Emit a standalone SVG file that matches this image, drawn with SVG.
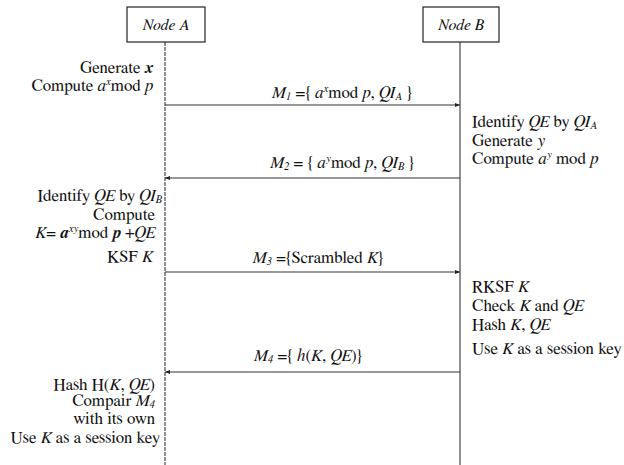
<svg xmlns="http://www.w3.org/2000/svg" width="624" height="465" viewBox="0 0 624 465">
<style>
text{font-family:FreeSerif,"Liberation Serif","Noto Serif","DejaVu Serif",serif;font-size:17px;fill:#111}
.n{font-size:16px}
.i{font-style:italic}
.b{font-weight:bold;font-style:italic}
.sub{font-size:11px;baseline-shift:-2px}
.sup{font-size:11px;baseline-shift:6px}
.r{text-anchor:end}
.m{text-anchor:middle}
.box{fill:#fff;stroke:#222;stroke-width:1.2}
.life{stroke:#222;stroke-width:1}
.msg{stroke:#333;stroke-width:1.2;fill:none}
</style>
<defs>
<marker id="ah" viewBox="0 0 10 10" refX="10" refY="5" markerWidth="7" markerHeight="5" orient="auto" markerUnits="userSpaceOnUse">
<path d="M0,1 L10,5 L0,9 z" fill="#222"/>
</marker>
</defs>
<g id="lifelines">
<line class="life" x1="165" y1="42" x2="165" y2="465" stroke-dasharray="4 1"/>
<line class="life" x1="460" y1="42" x2="460" y2="465"/>
</g>
<g id="nodeA">
<rect class="box" x="127" y="7" width="78" height="35"/>
<text class="i m n" x="166" y="30">Node A</text>
</g>
<g id="nodeB">
<rect class="box" x="423" y="7" width="76" height="35"/>
<text class="i m n" x="461" y="30">Node B</text>
</g>
<g id="connectors">
<line class="msg" x1="165" y1="105" x2="460" y2="105" marker-end="url(#ah)"/>
<line class="msg" x1="460" y1="178" x2="165" y2="178" marker-end="url(#ah)"/>
<line class="msg" x1="165" y1="272" x2="460" y2="272" marker-end="url(#ah)"/>
<line class="msg" x1="460" y1="372" x2="165" y2="372" marker-end="url(#ah)"/>
</g>
<g id="labels">
<text class="m" x="342" y="98"><tspan class="i">M</tspan><tspan class="sub i">1</tspan> ={ <tspan class="i">a</tspan><tspan class="sup i">x</tspan>mod <tspan class="i">p</tspan>, <tspan class="i">QI</tspan><tspan class="sub i">A</tspan> }</text>
<text class="m" x="342" y="168"><tspan class="i">M</tspan><tspan class="sub i">2</tspan> = { <tspan class="i">a</tspan><tspan class="sup i">y</tspan>mod <tspan class="i">p</tspan>, <tspan class="i">QI</tspan><tspan class="sub i">B</tspan> }</text>
<text class="m" x="318" y="263"><tspan class="i">M</tspan><tspan class="sub i">3</tspan> ={Scrambled <tspan class="i">K</tspan>}</text>
<text class="m" x="308" y="361"><tspan class="i">M</tspan><tspan class="sub i">4</tspan> ={ <tspan class="i">h</tspan>(<tspan class="i">K</tspan>, <tspan class="i">QE</tspan>)}</text>
</g>
<g id="actionsA">
<text class="r" x="153" y="73">Generate <tspan class="b">x</tspan></text>
<text class="r" x="153" y="91">Compute <tspan class="i">a</tspan><tspan class="sup i">x</tspan>mod <tspan class="i">p</tspan></text>
<text class="r" x="162" y="201">Identify <tspan class="i">QE</tspan> by <tspan class="i">QI</tspan><tspan class="sub i">B</tspan></text>
<text class="r" x="155" y="220">Compute</text>
<text class="r" x="155" y="238"><tspan class="i">K</tspan>= <tspan class="b">a</tspan><tspan class="sup i">xy</tspan>mod <tspan class="b">p</tspan> +<tspan class="i">QE</tspan></text>
<text class="r" x="153" y="262">KSF <tspan class="i">K</tspan></text>
<text class="r" x="155" y="390">Hash  H(<tspan class="i">K</tspan>, <tspan class="i">QE</tspan>)</text>
<text class="r" x="155" y="406">Compair <tspan class="i">M</tspan><tspan class="sub i">4</tspan></text>
<text class="r" x="155" y="424">with its own</text>
<text class="r" x="160" y="443">Use <tspan class="i">K</tspan> as a session key</text>
</g>
<g id="actionsB">
<text x="472" y="127">Identify <tspan class="i">QE</tspan> by <tspan class="i">QI</tspan><tspan class="sub i">A</tspan></text>
<text x="472" y="146">Generate <tspan class="i">y</tspan></text>
<text x="472" y="164">Compute <tspan class="i">a</tspan><tspan class="sup i">y</tspan> mod <tspan class="i">p</tspan></text>
<text x="472" y="292">RKSF <tspan class="i">K</tspan></text>
<text x="472" y="311">Check <tspan class="i">K</tspan>  and <tspan class="i">QE</tspan></text>
<text x="472" y="330">Hash <tspan class="i">K</tspan>, <tspan class="i">QE</tspan></text>
<text x="472" y="354">Use <tspan class="i">K</tspan> as a session key</text>
</g>
</svg>
